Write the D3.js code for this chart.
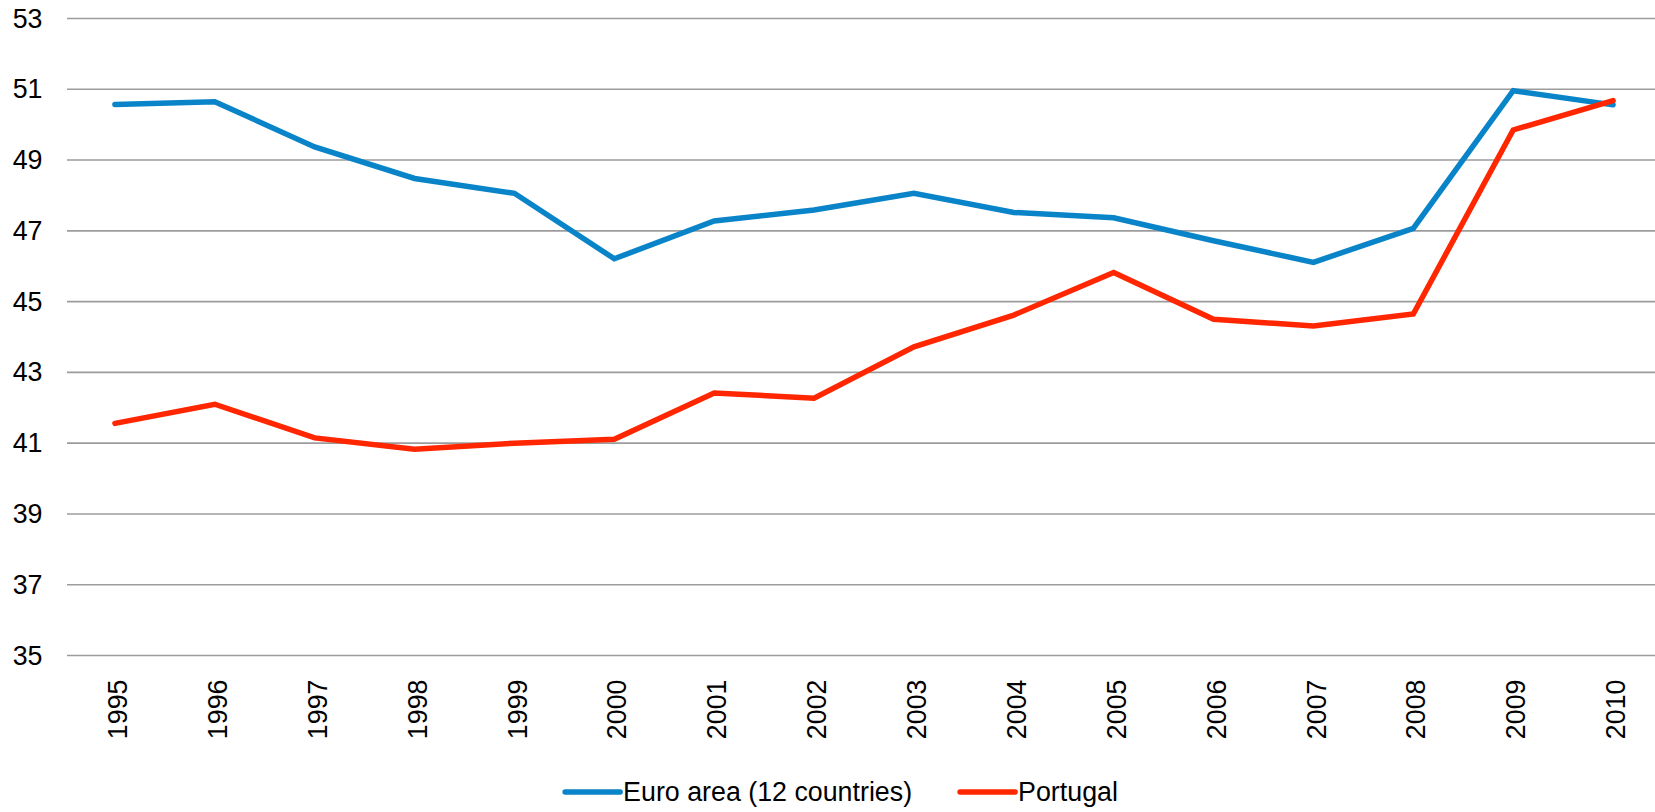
<!DOCTYPE html>
<html lang="en">
<head>
    <meta charset="utf-8">
    <script src="https://d3js.org/d3.v7.min.js"></script>
    <style>
        body { margin: 0; background: #fff; }
        svg { display: block; font-family: "Liberation Sans", Arial, sans-serif; }
    </style>
</head>
<body>
    <div id="chart"></div>
    <script>
        // data
        var years = ["1995", "1996", "1997", "1998", "1999", "2000", "2001", "2002",
                     "2003", "2004", "2005", "2006", "2007", "2008", "2009", "2010"];
        var euroArea = [50.57, 50.65, 49.37, 48.48, 48.06, 46.21, 47.28, 47.59,
                        48.06, 47.52, 47.37, 46.72, 46.11, 47.07, 50.96, 50.56];
        var portugal = [41.56, 42.10, 41.15, 40.83, 41.00, 41.11, 42.42, 42.27,
                        43.72, 44.62, 45.82, 44.50, 44.31, 44.65, 49.85, 50.68];
        var yTicks = [35, 37, 39, 41, 43, 45, 47, 49, 51, 53];
        var seriesNames = ["Euro area (12 countries)", "Portugal"];
        var colors = ["#0a84c8", "#ff2600"];

        var width = 1655,
            height = 812;
        var margin = { top: 18.5, left: 65, bottom: 156.5 };
        var plotRight = 1663; // chart runs a little past the window edge
        var fontSize = "26.8px";

        var series = [
            { name: seriesNames[0], values: euroArea, color: colors[0] },
            { name: seriesNames[1], values: portugal, color: colors[1] }
        ];

        var x = d3.scaleBand()
            .domain(years)
            .range([margin.left, plotRight]);

        var y = d3.scaleLinear()
            .domain([35, 53])
            .range([height - margin.bottom, margin.top]);

        var svg = d3.select("#chart").append("svg")
            .attr("width", width)
            .attr("height", height);

        // horizontal grid lines
        svg.append("g")
            .selectAll("line")
            .data(yTicks)
            .join("line")
            .attr("x1", margin.left + 2)
            .attr("x2", width)
            .attr("y1", d => y(d))
            .attr("y2", d => y(d))
            .attr("stroke", "#9c9c9c")
            .attr("stroke-width", 1.6);

        // y axis labels
        var yAxis = g => g
            .attr("transform", "translate(42.5,0)")
            .call(d3.axisLeft(y).tickValues(yTicks).tickSize(0).tickPadding(0))
            .call(g => g.select(".domain").remove())
            .call(g => g.selectAll("text")
                .attr("font-size", fontSize)
                .attr("font-family", "Liberation Sans, Arial, sans-serif")
                .attr("fill", "#000"));
        svg.append("g").call(yAxis);

        // x axis labels, rotated
        var xAxis = g => g
            .attr("transform", `translate(0,${height - margin.bottom})`)
            .call(d3.axisBottom(x).tickSize(0).tickPadding(0))
            .call(g => g.select(".domain").remove())
            .call(g => g.selectAll("text")
                .attr("font-size", fontSize)
                .attr("font-family", "Liberation Sans, Arial, sans-serif")
                .attr("fill", "#000")
                .attr("text-anchor", "end")
                .attr("transform", "rotate(-90)")
                .attr("x", -24)
                .attr("y", 0)
                .attr("dy", "0.45em"));
        svg.append("g").call(xAxis);

        // lines
        var line = d3.line()
            .x((d, i) => x(years[i]) + x.bandwidth() / 2)
            .y(d => y(d));

        svg.append("g")
            .attr("fill", "none")
            .attr("stroke-width", 5.5)
            .attr("stroke-linejoin", "miter")
            .attr("stroke-linecap", "round")
            .selectAll("path")
            .data(series)
            .join("path")
            .attr("stroke", d => d.color)
            .attr("d", d => line(d.values));

        // legend
        var legend = svg.append("g").attr("font-size", fontSize);
        var swatch = 55, gap = 3, itemGap = 48;
        var items = legend.selectAll("g")
            .data(series)
            .join("g");
        items.append("line")
            .attr("x1", 0).attr("x2", swatch)
            .attr("stroke", d => d.color)
            .attr("stroke-width", 5.5)
            .attr("stroke-linecap", "round");
        items.append("text")
            .attr("x", swatch + gap)
            .attr("dy", "0.35em")
            .attr("fill", "#000")
            .text(d => d.name);

        var offset = 0;
        items.each(function() {
            var w = swatch + gap + this.querySelector("text").getComputedTextLength();
            d3.select(this).attr("transform", `translate(${offset},0)`);
            offset += w + itemGap;
        });
        var total = offset - itemGap;
        legend.attr("transform", `translate(${841.5 - total / 2},792)`);
    </script>
</body>
</html>
